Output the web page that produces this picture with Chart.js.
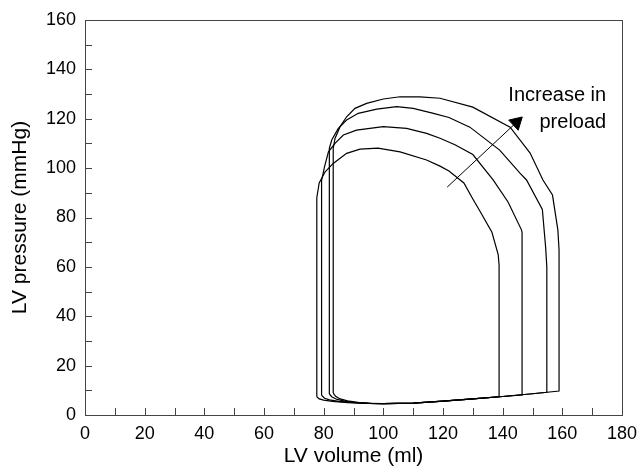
<!DOCTYPE html>
<html>
<head>
<meta charset="utf-8">
<script src="https://cdn.jsdelivr.net/npm/chart.js@4.4.0/dist/chart.umd.min.js"></script>
<style>
  body { margin: 0; background: #fff; }
</style>
</head>
<body>
<canvas id="pvChart" width="639" height="468"></canvas>
<script>
// PV loops: volume in ml, pressure in mmHg
const loop1Vol  = [77.7, 78.5, 80, 83, 88, 95, 100, 110, 120, 130, 138.8, 138.8, 138.5, 136.4, 132.4, 130, 127, 122, 119, 114.5, 105.6, 98.2, 92.2, 87.7, 83.2, 80.5, 78.5, 77.7, 77.7];
const loop1Pres = [7.4, 6.5, 6.0, 5.5, 5.0, 4.7, 4.6, 4.8, 5.6, 6.5, 7.4, 60.8, 65, 74, 82.5, 87.5, 94, 98.8, 100.8, 103.3, 106.6, 108.1, 107.7, 106, 101.9, 98.5, 94, 88, 7.4];

const loop2Vol  = [79.3, 80.3, 82, 85, 90, 95, 100, 110, 120, 130, 140, 146.5, 146.5, 146.3, 141.8, 136.8, 130, 124, 119, 114.5, 107.8, 100, 91, 86.6, 83.8, 81.6, 80.3, 79.3, 79.3];
const loop2Pres = [8.0, 6.8, 6.1, 5.5, 5.0, 4.7, 4.6, 4.8, 5.6, 6.5, 7.5, 8.1, 74, 75, 86.3, 95.2, 105.5, 109.5, 112.1, 114.1, 116.1, 116.8, 115.4, 113.4, 110, 106.6, 100.6, 95, 8.0];

const loop3Vol  = [81.9, 82.8, 84.5, 87, 91, 95, 100, 110, 120, 130, 140, 150, 154.8, 154.8, 154.4, 153.3, 148, 145.8, 139, 129, 122, 116.8, 110, 104.5, 97.8, 91.6, 87.7, 84.9, 82.7, 81.9, 81.9];
const loop3Pres = [8.5, 7.3, 6.3, 5.6, 5.0, 4.7, 4.6, 4.8, 5.6, 6.5, 7.5, 8.6, 9.2, 60, 68, 83.3, 95.2, 98, 107.3, 116.6, 120.5, 122.2, 124.2, 124.9, 123.9, 122.2, 119.5, 116.1, 111.4, 108, 8.5];

const loop4Vol  = [83.2, 84, 85.5, 88, 92, 96, 100, 110, 120, 130, 140, 150, 158.9, 158.9, 158.5, 156.7, 153.5, 149.2, 142.5, 130, 119, 112.3, 105.6, 100, 94.4, 90.5, 87.7, 85.5, 83.8, 83.2, 83.2];
const loop4Pres = [8.9, 7.6, 6.5, 5.7, 5.0, 4.7, 4.6, 4.8, 5.6, 6.5, 7.5, 8.6, 9.7, 66.8, 75, 89.1, 95.2, 106.1, 116.6, 124.7, 128.3, 128.9, 128.9, 128, 126.2, 124.2, 120.8, 116.8, 112, 108, 8.9];

// arrow "increase in preload"
const arrowVol  = [121.4, 144.6];
const arrowPres = [92.3, 118.5];

const noteLines = ['Increase in', 'preload'];
const noteVol   = 174.7;
const notePres  = [127, 116.1];

const volTicks  = [0, 20, 40, 60, 80, 100, 120, 140, 160, 180];
const presTicks = [0, 20, 40, 60, 80, 100, 120, 140, 160];

function toPoints(xs, ys) {
    return xs.map((x, i) => ({ x: x, y: ys[i] }));
}

function loopSet(xs, ys) {
    return {
        data: toPoints(xs, ys),
        showLine: true,
        borderColor: '#000',
        borderWidth: 1.2,
        pointRadius: 0,
        tension: 0
    };
}

const frameTicks = {
    id: 'frameTicks',
    afterDraw(chart) {
        const ctx = chart.ctx;
        const a = chart.chartArea;
        const xs = chart.scales.x;
        const ys = chart.scales.y;
        ctx.save();
        ctx.strokeStyle = '#444';
        ctx.lineWidth = 1;
        ctx.strokeRect(a.left + 0.5, a.top + 0.5, a.right - a.left, a.bottom - a.top);
        ctx.beginPath();
        xs.ticks.forEach(t => {
            const px = Math.round(xs.getPixelForValue(t.value)) + 0.5;
            ctx.moveTo(px, a.bottom);
            ctx.lineTo(px, a.bottom - 7);
        });
        ys.ticks.forEach(t => {
            const py = Math.round(ys.getPixelForValue(t.value)) + 0.5;
            ctx.moveTo(a.left, py);
            ctx.lineTo(a.left + 7, py);
        });
        ctx.stroke();

        ctx.fillStyle = '#000';
        ctx.font = '20px "Liberation Sans", Arial, sans-serif';
        ctx.textAlign = 'right';
        ctx.textBaseline = 'alphabetic';
        noteLines.forEach((s, i) => {
            ctx.fillText(s, xs.getPixelForValue(noteVol), ys.getPixelForValue(notePres[i]));
        });
        ctx.restore();
    }
};

Chart.defaults.font.family = '"Liberation Sans", Arial, sans-serif';
Chart.defaults.color = '#000';

const config = {
    type: 'scatter',
    data: {
        datasets: [
            loopSet(loop1Vol, loop1Pres),
            loopSet(loop2Vol, loop2Pres),
            loopSet(loop3Vol, loop3Pres),
            loopSet(loop4Vol, loop4Pres),
            {
                data: toPoints(arrowVol, arrowPres),
                showLine: true,
                borderColor: '#000',
                borderWidth: 1,
                backgroundColor: '#000',
                pointBorderColor: '#000',
                pointStyle: 'triangle',
                pointRotation: 47,
                pointRadius: [0, 8],
                pointBorderWidth: 1
            }
        ]
    },
    options: {
        responsive: false,
        animation: false,
        layout: { padding: { left: 0, right: 17, top: 20, bottom: 0 } },
        plugins: {
            legend: { display: false },
            tooltip: { enabled: false }
        },
        scales: {
            x: {
                type: 'linear',
                min: 0,
                max: 180,
                afterFit: s => {
                    s.height = 53;
                    s.paddingLeft = 0;
                    s.paddingRight = 0;
                },
                grid: { display: false, drawTicks: false },
                border: { display: false },
                ticks: {
                    stepSize: 10,
                    padding: 8,
                    font: { size: 18 },
                    autoSkip: false,
                    maxRotation: 0,
                    callback: v => volTicks.includes(v) ? v : ''
                },
                title: {
                    display: true,
                    text: 'LV volume (ml)',
                    font: { size: 21 },
                    padding: { top: 0, bottom: -1 }
                }
            },
            y: {
                type: 'linear',
                min: 0,
                max: 160,
                afterFit: s => { s.width = 85; },
                grid: { display: false, drawTicks: false },
                border: { display: false },
                ticks: {
                    stepSize: 10,
                    padding: 9,
                    font: { size: 18 },
                    autoSkip: false,
                    callback: v => presTicks.includes(v) ? v : ''
                },
                title: {
                    display: true,
                    text: 'LV pressure (mmHg)',
                    font: { size: 21 },
                    padding: { top: 8, bottom: 0 }
                }
            }
        }
    },
    plugins: [frameTicks]
};

const pvChart = new Chart(document.getElementById('pvChart'), config);
</script>
</body>
</html>
